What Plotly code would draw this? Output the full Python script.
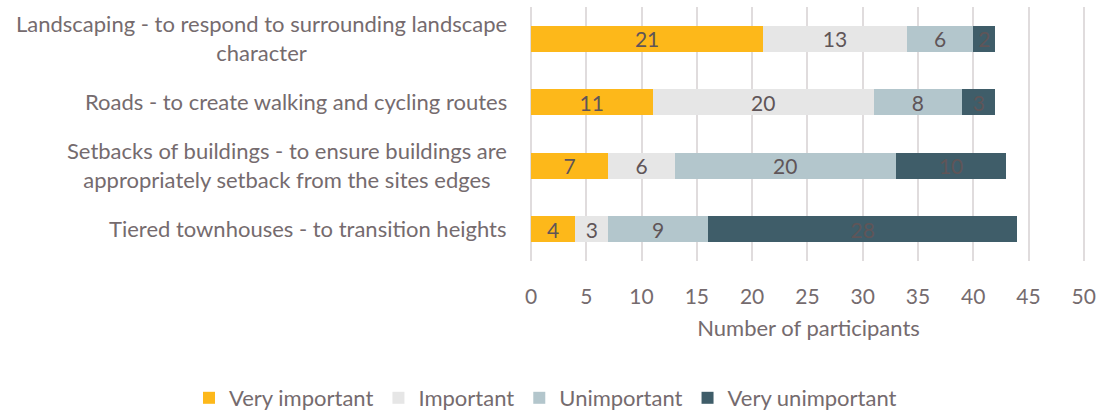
import plotly.graph_objects as go

categories = [
    "Landscaping - to respond to surrounding landscape<br>character",
    "Roads - to create walking and cycling routes",
    "Setbacks of buildings - to ensure buildings are<br>appropriately setback from the sites edges",
    "Tiered townhouses - to transition heights",
]
very_important = [21, 11, 7, 4]
important = [13, 20, 6, 3]
unimportant = [6, 8, 20, 9]
very_unimportant = [2, 3, 10, 28]

series_names = ["Very important", "Important", "Unimportant", "Very unimportant"]
series_values = [very_important, important, unimportant, very_unimportant]
series_colors = ["#FDB81A", "#E6E6E6", "#B3C6CC", "#3F5D69"]

x_ticks = [0, 5, 10, 15, 20, 25, 30, 35, 40, 45, 50]

FONT = "Lato, Carlito, Calibri, sans-serif"
TXT = "#756b6e"

W, H = 1103, 412
ML, MR, MT, MB = 531, 17, 7, 151
PW, PH = W - ML - MR, H - MT - MB

fig = go.Figure()
for name, vals, col in zip(series_names, series_values, series_colors):
    fig.add_trace(go.Bar(
        y=categories, x=vals, name=name, orientation="h",
        marker=dict(color=col, line=dict(width=0)),
        text=[str(v) for v in vals], textposition="inside",
        insidetextanchor="middle", textangle=0,
        textfont=dict(family=FONT, size=21, color="#5f5558"),
        constraintext="none",
    ))

for c in categories:
    fig.add_annotation(
        x=0, xref="paper", y=c, yref="y", text=c, showarrow=False,
        xanchor="right", xshift=-22, yshift=1, align="center",
        font=dict(family=FONT, size=22, color=TXT),
    )

fig.update_layout(
    barmode="stack",
    bargap=0.59,
    width=W, height=H,
    margin=dict(l=ML, r=MR, t=MT, b=MB, pad=0, autoexpand=False),
    plot_bgcolor="white", paper_bgcolor="white",
    font=dict(family=FONT, size=22, color=TXT),
    showlegend=True,
    legend=dict(
        orientation="h", xref="paper", yref="paper",
        x=(189 - ML) / PW, xanchor="left",
        y=-(398 - MT - PH) / PH, yanchor="middle",
        font=dict(family=FONT, size=22, color=TXT),
        traceorder="normal",
    ),
    xaxis=dict(
        range=[0, 50.2], tickvals=x_ticks, ticktext=[str(t) for t in x_ticks],
        showgrid=True, gridcolor="#e0dcdd", gridwidth=1.5,
        zeroline=True, zerolinecolor="#e0dcdd", zerolinewidth=1.5,
        showline=False, ticks="", ticklabelstandoff=21,
        ticklabeloverflow="allow",
        tickfont=dict(family=FONT, size=21, color=TXT),
        title=dict(text="Number of participants", standoff=13,
                   font=dict(family=FONT, size=22, color=TXT)),
        fixedrange=True,
    ),
    yaxis=dict(
        autorange="reversed", showticklabels=False, showgrid=False,
        showline=False, ticks="", fixedrange=True,
    ),
)

fig.write_html(
    "out.html",
    config={"displayModeBar": False},
    post_script="document.body.style.margin='0px';document.body.style.overflow='hidden';",
)
